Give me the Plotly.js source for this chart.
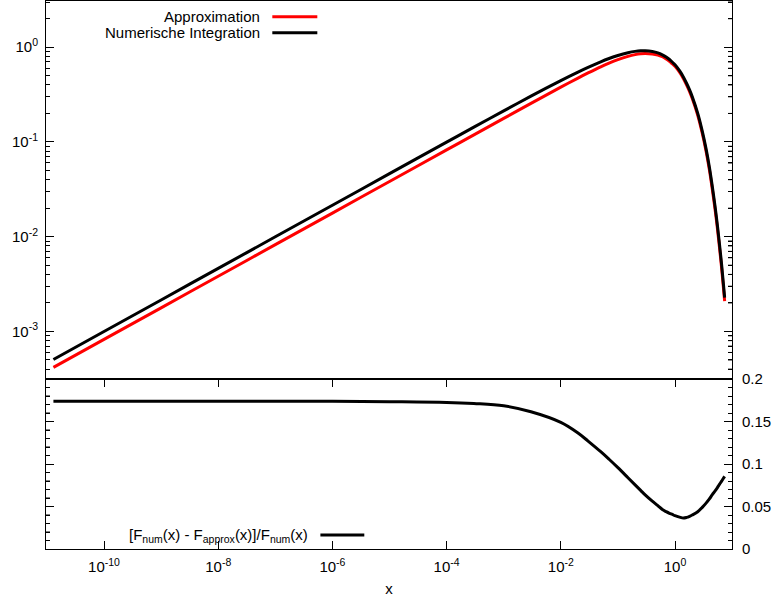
<!DOCTYPE html>
<html>
<head>
<meta charset="utf-8">
<script src="https://cdn.plot.ly/plotly-3.0.1.min.js"></script>
<style>html,body{margin:0;padding:0;background:#fff;}#chart{width:777px;height:603px;}</style>
</head>
<body>
<div id="chart"></div>
<script>
// x values (argument of the synchrotron function)
const xValues = [1.3e-11, 1e-10, 1e-9, 1e-8, 1e-7, 1e-6, 1e-5, 1e-4, 3e-4, 1e-3, 3e-3,
  0.01, 0.02, 0.03, 0.05, 0.07, 0.1, 0.15, 0.2, 0.25, 0.3, 0.4, 0.5, 0.6, 0.7, 0.8, 0.9,
  1.0, 1.2, 1.4, 1.6, 1.8, 2.0, 2.5, 3.0, 3.5, 4.0, 4.5, 5.0, 5.5, 6.0, 6.5, 7.0, 7.4];
// numerical integration (black)
const fNumeric = [5.05e-4, 9.978e-4, 2.1495e-3, 4.631e-3, 9.977e-3, 0.02149, 0.04629, 0.0996, 0.1433, 0.2131, 0.305,
  0.445, 0.547, 0.613, 0.702, 0.760, 0.818, 0.874, 0.904, 0.917, 0.918, 0.901, 0.872, 0.832, 0.788, 0.742, 0.694,
  0.655, 0.566, 0.486, 0.414, 0.354, 0.301, 0.200, 0.130, 0.0845, 0.0541, 0.0339, 0.0214, 0.0135, 0.0084, 0.00531, 0.00330, 0.00228];
// approximation (red)
const fApprox = [4.173e-4, 8.245e-4, 1.776e-3, 3.827e-3, 8.244e-3, 0.01776, 0.03827, 0.08242, 0.1188, 0.1772, 0.2557,
  0.3787, 0.4723, 0.5351, 0.6216, 0.6797, 0.7397, 0.8007, 0.8357, 0.8537, 0.8595, 0.8503, 0.8275, 0.7934, 0.7534, 0.7108, 0.6658,
  0.6293, 0.5448, 0.4683, 0.3986, 0.3404, 0.2890, 0.1912, 0.1236, 0.07994, 0.05091, 0.03173, 0.01994, 0.01253, 0.007762, 0.004888, 0.003026, 0.002085];
// relative deviation (bottom panel)
const relError = [0.1737, 0.1737, 0.1737, 0.1737, 0.1737, 0.1737, 0.1733, 0.1725, 0.1712, 0.1685, 0.1615,
  0.149, 0.1365, 0.127, 0.1145, 0.1056, 0.0957, 0.0839, 0.0755, 0.069, 0.0637, 0.0563, 0.051, 0.0464, 0.0439, 0.042, 0.0406,
  0.0392, 0.0375, 0.0365, 0.0372, 0.0385, 0.040, 0.0438, 0.049, 0.054, 0.059, 0.064, 0.068, 0.072, 0.076, 0.0795, 0.083, 0.0855];

const xTickVals = [1e-10, 1e-8, 1e-6, 1e-4, 1e-2, 1];
const xTickText = ['10<sup>-10</sup>', '10<sup>-8</sup>', '10<sup>-6</sup>', '10<sup>-4</sup>', '10<sup>-2</sup>', '10<sup>0</sup>'];
const yTickVals = [1e-3, 1e-2, 1e-1, 1];
const yTickText = ['10<sup>-3</sup>', '10<sup>-2</sup>', '10<sup>-1</sup>', '10<sup>0</sup>'];
const errTickVals = [0, 0.05, 0.1, 0.15, 0.2];
const errTickText = ['0', '0.05', '0.1', '0.15', '0.2'];

const legendTop = ['Approximation', 'Numerische Integration'];
const legendBottom = '[F<sub>num</sub>(x) - F<sub>approx</sub>(x)]/F<sub>num</sub>(x)';

const FONT = {family: 'Liberation Sans, Arial, sans-serif', size: 15, color: '#000'};
const split = 0.3102;
const YR = [-3.502, 0.488];
const ER = [0, 0.2];

// minor tick positions
const yMinor = [];
for (let e = -4; e <= 0; e++) for (let d = 2; d <= 9; d++) {
  const v = d * Math.pow(10, e);
  const lv = Math.log10(v);
  if (lv > YR[0] && lv < YR[1]) yMinor.push(v);
}
const errMinor = [];
for (let k = 1; k < 20; k++) if (k % 5 !== 0) errMinor.push(k / 100);

const traces = [
  {x: xValues, y: fApprox, xaxis: 'x2', yaxis: 'y', mode: 'lines', name: legendTop[0],
   line: {color: '#ff0000', width: 3, shape: 'spline', smoothing: 0.8}},
  {x: xValues, y: fNumeric, xaxis: 'x2', yaxis: 'y', mode: 'lines', name: legendTop[1],
   line: {color: '#000000', width: 3, shape: 'spline', smoothing: 0.8}},
  {x: xValues, y: relError, xaxis: 'x', yaxis: 'y2', mode: 'lines', name: 'err',
   line: {color: '#000000', width: 3, shape: 'spline', smoothing: 1}}
];

// mirrored minor ticks (Plotly does not mirror minor ticks)
const tickShapes = [];
yMinor.forEach(v => {
  const f = (Math.log10(v) - YR[0]) / (YR[1] - YR[0]);
  tickShapes.push({type: 'line', xref: 'paper', yref: 'y domain', xsizemode: 'pixel', xanchor: 1,
    x0: -4, x1: 0, y0: f, y1: f, line: {color: '#000', width: 1}});
});
errMinor.forEach(v => {
  const f = (v - ER[0]) / (ER[1] - ER[0]);
  tickShapes.push({type: 'line', xref: 'paper', yref: 'y2 domain', xsizemode: 'pixel', xanchor: 0,
    x0: 0, x1: 4, y0: f, y1: f, line: {color: '#000', width: 1}});
});

const tickAx = {ticks: 'inside', ticklen: 8, tickcolor: '#000', tickwidth: 1, showgrid: false, zeroline: false};
const lx0 = 0.3299, lx1 = 0.3955;
const layout = {
  width: 777, height: 603,
  margin: {l: 46, r: 45, t: 1, b: 54},
  paper_bgcolor: '#fff', plot_bgcolor: '#fff',
  font: FONT,
  showlegend: false,
  xaxis: Object.assign({}, tickAx, {
    type: 'log', range: [-11.016, 0.998], domain: [0, 1], anchor: 'y2',
    tickmode: 'array', tickvals: xTickVals, ticktext: xTickText,
    showline: true, linecolor: '#000', linewidth: 1, mirror: 'ticks',
    tickfont: FONT, ticklabelstandoff: 4,
    title: {text: 'x', font: FONT, standoff: 9}
  }),
  xaxis2: {
    type: 'log', matches: 'x', anchor: 'y', domain: [0, 1],
    showticklabels: false, ticks: '',
    showline: true, linecolor: '#000', linewidth: 1, mirror: true,
    showgrid: false, zeroline: false
  },
  yaxis: Object.assign({}, tickAx, {
    type: 'log', domain: [split, 1], range: YR, anchor: 'x2',
    tickmode: 'array', tickvals: yTickVals, ticktext: yTickText,
    minor: {tickmode: 'array', tickvals: yMinor, ticks: 'inside', ticklen: 4, tickcolor: '#000', showgrid: false},
    showline: true, linecolor: '#000', linewidth: 1, mirror: 'ticks',
    tickfont: FONT, ticklabelstandoff: 4
  }),
  yaxis2: Object.assign({}, tickAx, {
    domain: [0, split], range: ER, anchor: 'x', side: 'right',
    tickmode: 'array', tickvals: errTickVals, ticktext: errTickText,
    minor: {tickmode: 'array', tickvals: errMinor, ticks: 'inside', ticklen: 4, tickcolor: '#000', showgrid: false},
    showline: true, linecolor: '#000', linewidth: 1, mirror: 'ticks',
    tickfont: FONT, ticklabelstandoff: 6
  }),
  annotations: [
    {xref: 'paper', yref: 'paper', x: 0.3153, y: 0.9714, xanchor: 'right', yanchor: 'middle',
     text: legendTop[0], showarrow: false, font: FONT},
    {xref: 'paper', yref: 'paper', x: 0.3153, y: 0.9421, xanchor: 'right', yanchor: 'middle',
     text: legendTop[1], showarrow: false, font: FONT},
    {xref: 'paper', yref: 'paper', x: 0.3843, y: 0.0255, xanchor: 'right', yanchor: 'middle',
     text: legendBottom, showarrow: false, font: FONT}
  ],
  shapes: tickShapes.concat([
    {type: 'line', xref: 'paper', yref: 'paper', x0: lx0, x1: lx1, y0: 0.9714, y1: 0.9714,
     line: {color: '#ff0000', width: 3}},
    {type: 'line', xref: 'paper', yref: 'paper', x0: lx0, x1: lx1, y0: 0.9421, y1: 0.9421,
     line: {color: '#000000', width: 3}},
    {type: 'line', xref: 'paper', yref: 'paper', x0: 0.40, x1: 0.464, y0: 0.0255, y1: 0.0255,
     line: {color: '#000000', width: 3}}
  ])
};

Plotly.newPlot('chart', traces, layout, {displayModeBar: false, staticPlot: true});
</script>
</body>
</html>
